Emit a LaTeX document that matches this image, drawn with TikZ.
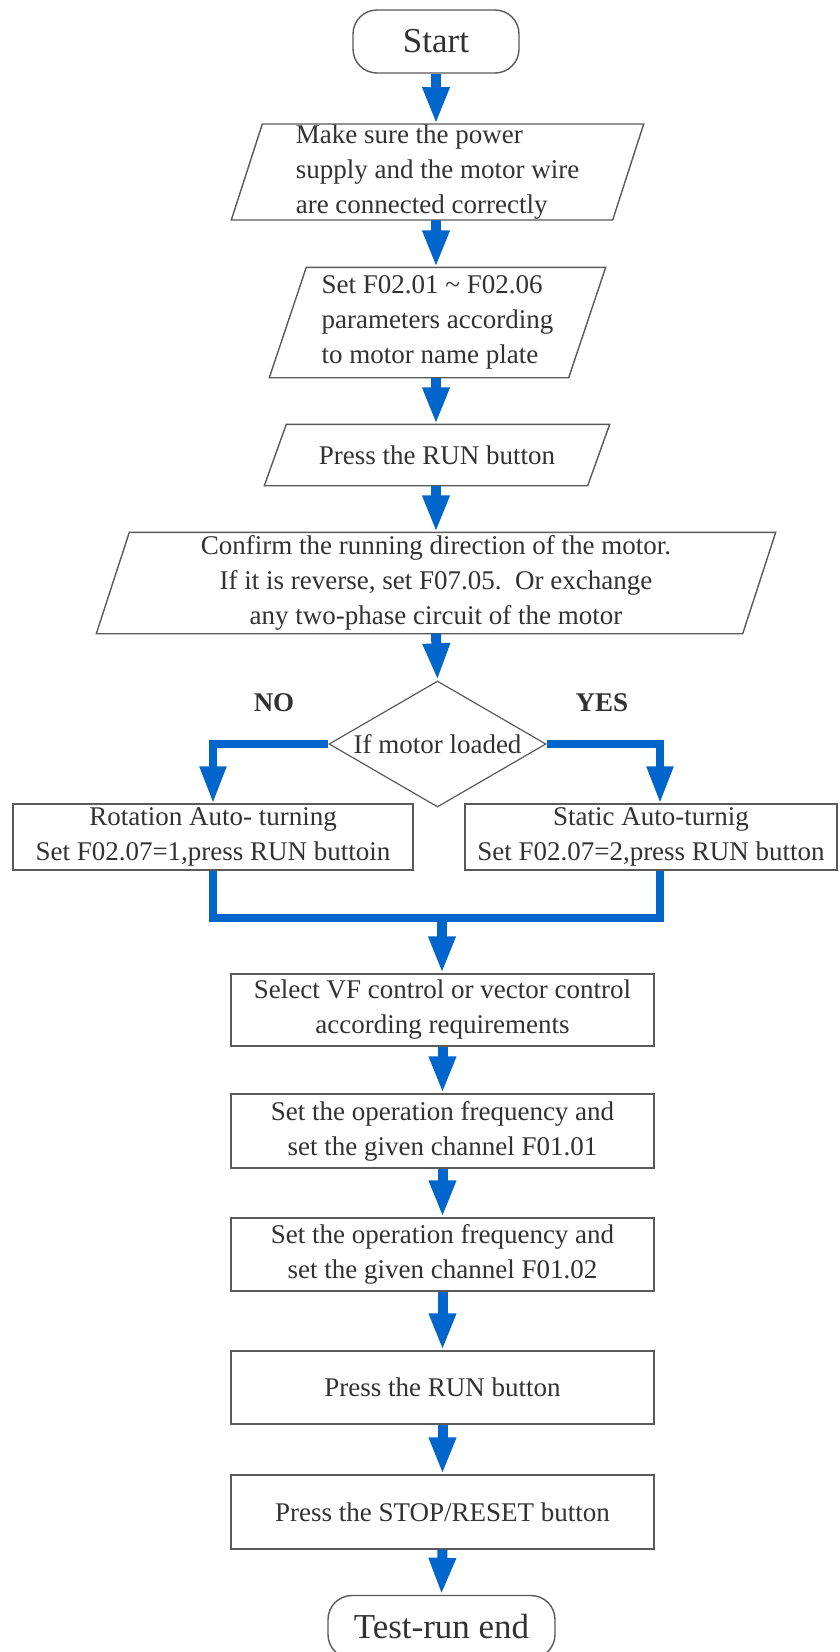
\documentclass[tikz,border=0pt]{standalone}
\usepackage{fontspec}
\setmainfont{Liberation Serif}
\usetikzlibrary{shapes.geometric,arrows.meta}
\definecolor{flowblue}{RGB}{0,102,204}
\definecolor{boxline}{RGB}{90,90,90}
\definecolor{txt}{RGB}{50,50,50}
\newcommand\drawpara[2]{\draw[outline] ([xshift=#2]#1.north west) -- ([xshift=#2]#1.north east) -- ([xshift=-#2]#1.south east) -- ([xshift=-#2]#1.south west) -- cycle;}
\begin{document}
\begin{tikzpicture}[x=1pt,y=-1pt,
  outline/.style={draw=boxline, line width=1.4pt, line join=miter},
  base/.style={outline, text=txt, font=\fontsize{27}{35}\selectfont, inner sep=0pt},
  term/.style={base, rectangle, rounded corners=24pt, minimum width=166pt, minimum height=63pt, font=\fontsize{35}{42}\selectfont},
  para/.style={base, draw=none, rectangle},
  proc/.style={base, rectangle, minimum width=423pt, align=center},
  side/.style={base, rectangle, minimum height=66pt, align=center},
  decide/.style={base, diamond, aspect=1.72, minimum width=217pt, minimum height=126pt, line width=1.2pt},
  tip/.style={-{Triangle[length=37pt,width=25pt]}},
  flow/.style={draw=flowblue, line width=10pt, tip},
  branch/.style={draw=flowblue, line width=8pt},
  lab/.style={text=txt, font=\bfseries\fontsize{27}{35}\selectfont, inner sep=0pt}
]
\useasboundingbox (0,0) rectangle (839,1652);
\fill[white] (0,0) rectangle (839,1652);

\node[term] (start) at (436,41.5) {Start};
\node[para, minimum width=380pt, minimum height=94pt, align=left] (p1) at (437.5,172)
  {Make sure the power\\supply and the motor wire\\are connected correctly};
\drawpara{p1}{15.5pt}
\node[para, minimum width=298pt, minimum height=109pt, align=left] (p2) at (437.5,322.5)
  {Set F02.01 \textasciitilde{} F02.06\\parameters according\\to motor name plate};
\drawpara{p2}{18.5pt}
\node[para, minimum width=322pt, minimum height=60pt] (p3) at (437,455)
  {Press the RUN button};
\drawpara{p3}{11pt}
\node[para, minimum width=645pt, minimum height=100pt, align=center] (p4) at (436,583)
  {Confirm the running direction of the motor.\\If it is reverse, set F07.05.\ \ Or exchange\\any two-phase circuit of the motor};
\drawpara{p4}{16.5pt}
\node[decide] (d) at (437.5,744) {If motor loaded};
\node[lab] (no) at (274,703) {NO};
\node[lab] (yes) at (602,703) {YES};
\node[side, minimum width=400pt] (L) at (213,837)
  {Rotation Auto- turning\\Set F02.07=1,press RUN buttoin};
\node[side, minimum width=372pt] (R) at (651,837)
  {Static Auto-turnig\\Set F02.07=2,press RUN button};
\coordinate (m) at (442,918);
\node[proc, minimum height=72pt] (b1) at (442.5,1010)
  {Select VF control or vector control\\according requirements};
\node[proc, minimum height=74pt] (b2) at (442.5,1131)
  {Set the operation frequency and\\set the given channel F01.01};
\node[proc, minimum height=73pt] (b3) at (442.5,1254.5)
  {Set the operation frequency and\\set the given channel F01.02};
\node[proc, minimum height=73pt] (b4) at (442.5,1387.5) {Press the RUN button};
\node[proc, minimum height=74pt] (b5) at (442.5,1512) {Press the STOP/RESET button};
\node[term, minimum width=227pt] (end) at (441.5,1627) {Test-run end};

\draw[flow] (start.south) -- (start.south |- p1.north);
\draw[flow] (start.south |- p1.south) -- (start.south |- p2.north);
\draw[flow] (start.south |- p2.south) -- (start.south |- p3.north);
\draw[flow] (start.south |- p3.south) -- (start.south |- p4.north);
\draw[flow] (start.south |- p4.south) -- (d.north);
\draw[branch, tip] (d.west) -| (L.north);
\draw[branch, tip] (d.east) -| ([xshift=9pt]R.north);
\draw[branch] (L.south) |- (m) -| ([xshift=9pt]R.south);
\draw[flow] (m) -- (m |- b1.north);
\draw[flow] (b1.south) -- (b2.north);
\draw[flow] (b2.south) -- (b3.north);
\draw[flow] (b3.south) -- (b4.north);
\draw[flow] (b4.south) -- (b5.north);
\draw[flow] (b5.south) -- (end.north);
\end{tikzpicture}
\end{document}
